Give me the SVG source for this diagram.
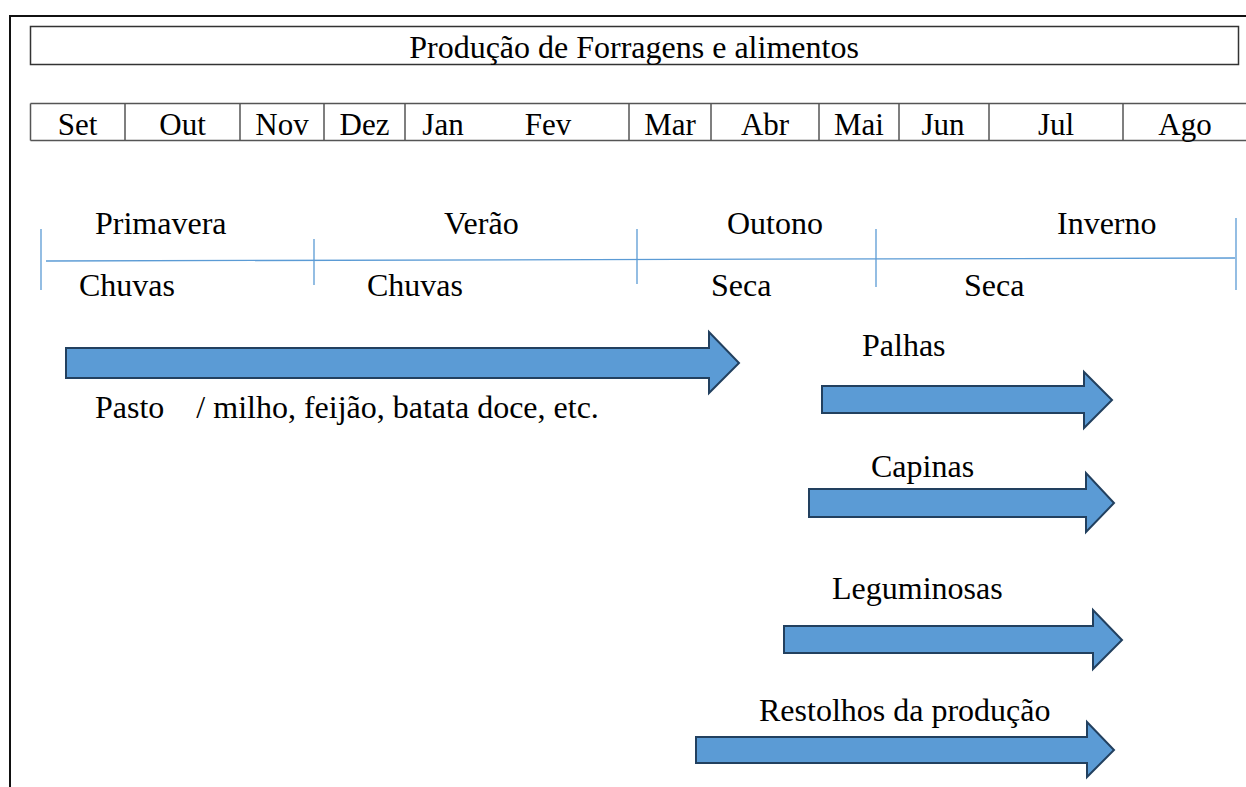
<svg xmlns="http://www.w3.org/2000/svg" width="1246" height="787" viewBox="0 0 1246 787">
<style>
text{font-family:"Liberation Serif","Times New Roman",serif;font-size:32px;fill:#000}
.mid{text-anchor:middle}
.mon{font-size:31px}
.cell{fill:#fff;stroke:#555;stroke-width:1.5}
.tl{stroke:#5B9BD5;stroke-width:1.3;fill:none}
.arr{fill:#5B9BD5;stroke:#22405F;stroke-width:2;stroke-linejoin:miter}
</style>
<rect width="1246" height="787" fill="#fff"/>
<g id="frame">
<path d="M10,787 V16 H1246" fill="none" stroke="#111" stroke-width="2"/>
</g>
<g id="title">
<rect x="30.5" y="26.5" width="1208" height="38" fill="#fff" stroke="#333" stroke-width="1.5"/>
<text x="634" y="58" class="mid">Produção de Forragens e alimentos</text>
</g>
<g id="months">
<path class="cell" d="M30.5,103.5 H1246 M30.5,140.5 H1246 M30.5,103.5 V140.5 M125,103.5 V140.5 M240,103.5 V140.5 M324,103.5 V140.5 M405,103.5 V140.5 M629,103.5 V140.5 M711,103.5 V140.5 M819,103.5 V140.5 M899,103.5 V140.5 M989,103.5 V140.5 M1123,103.5 V140.5"/>
<text x="77.5" y="135" class="mid mon">Set</text>
<text x="182.5" y="135" class="mid mon">Out</text>
<text x="282" y="135" class="mid mon">Nov</text>
<text x="364.5" y="135" class="mid mon">Dez</text>
<text x="443" y="135" class="mid mon">Jan</text>
<text x="548" y="135" class="mid mon">Fev</text>
<text x="670" y="135" class="mid mon">Mar</text>
<text x="765" y="135" class="mid mon">Abr</text>
<text x="859" y="135" class="mid mon">Mai</text>
<text x="943" y="135" class="mid mon">Jun</text>
<text x="1056" y="135" class="mid mon">Jul</text>
<text x="1185" y="135" class="mid mon">Ago</text>
</g>
<g id="timeline">
<path class="tl" d="M46,261 L1235,258"/>
<path class="tl" d="M41,229 V290 M314,239 V285 M637,229 V284 M876,229 V287 M1236,218 V290"/>
</g>
<g id="seasons">
<text x="95" y="234">Primavera</text>
<text x="444" y="234">Verão</text>
<text x="727" y="234">Outono</text>
<text x="1057" y="234">Inverno</text>
<text x="79" y="296">Chuvas</text>
<text x="367" y="296">Chuvas</text>
<text x="711" y="296">Seca</text>
<text x="964" y="296">Seca</text>
</g>
<g id="connectors">
<path id="arrow-pasto" class="arr" d="M66,348 H709 V332 L739,363 L709,393 V378 H66 Z"/>
<path id="arrow-palhas" class="arr" d="M822,386 H1084 V372 L1112,400 L1084,428 V413 H822 Z"/>
<path id="arrow-capinas" class="arr" d="M809,489 H1086 V473 L1114,503 L1086,532 V517 H809 Z"/>
<path id="arrow-leguminosas" class="arr" d="M784,626 H1093 V610 L1122,640 L1093,669 V653 H784 Z"/>
<path id="arrow-restolhos" class="arr" d="M696,737 H1087 V722 L1114,750 L1087,777 V763 H696 Z"/>
</g>
<g id="labels">
<text x="95" y="418" xml:space="preserve">Pasto    / milho, feijão, batata doce, etc.</text>
<text x="862" y="356">Palhas</text>
<text x="871" y="477">Capinas</text>
<text x="832" y="599">Leguminosas</text>
<text x="759" y="721">Restolhos da produção</text>
</g>
</svg>
